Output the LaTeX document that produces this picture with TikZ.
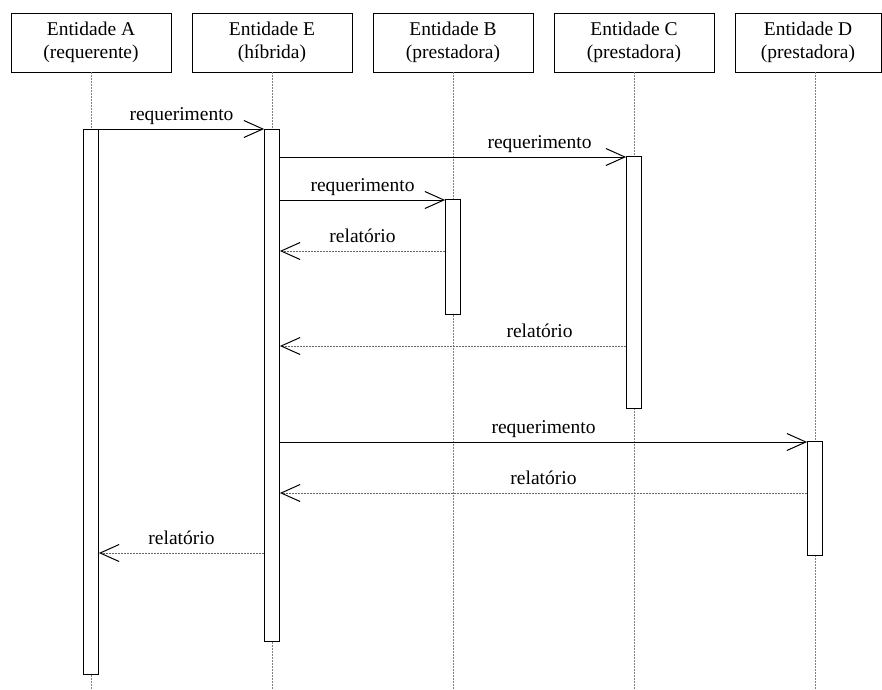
\documentclass[tikz,border=0pt]{standalone}
\usepackage{fontspec}
\setmainfont{Liberation Serif}
\usetikzlibrary{arrows.meta}

\tikzset{
  entity/.style={draw, thick, rectangle, minimum width=160pt, minimum height=59pt, align=center, inner sep=0pt},
  act/.style={draw, thick, fill=white, rectangle, minimum width=15pt, inner sep=0pt},
  life/.style={gray, dash pattern=on 2pt off 1pt, line width=0.8pt},
  req/.style={line width=0.9pt, -{Straight Barb[length=19pt, width=17pt, line width=1pt]}},
  rep/.style={gray!80!black, line width=0.9pt, dash pattern=on 2pt off 1pt, -{Straight Barb[length=19pt, width=17pt, line width=1pt, color=black]}},
  lbl/.style={anchor=base, yshift=9pt, inner sep=0pt, text=black}
}

\begin{document}
\begin{tikzpicture}[x=1pt, y=-1pt, font=\fontsize{19.5}{23}\selectfont]
    \useasboundingbox (0,0) rectangle (882,689);

    % entidades
    \node (A) at (91,42.5) [entity] {Entidade A\\(requerente)};
    \node (E) at (272,42.5) [entity] {Entidade E\\(híbrida)};
    \node (B) at (453,42.5) [entity] {Entidade B\\(prestadora)};
    \node (C) at (634,42.5) [entity] {Entidade C\\(prestadora)};
    \node (D) at (808,42.5) [entity, minimum width=146pt] {Entidade D\\(prestadora)};

    % linhas de vida
    \coordinate (endA) at (91,689);
    \coordinate (endE) at (272,689);
    \coordinate (endB) at (453,689);
    \coordinate (endC) at (634,689);
    \coordinate (endD) at (815,689);
    \draw[life] (A.south -| endA) -- (endA);
    \draw[life] (E.south -| endE) -- (endE);
    \draw[life] (B.south -| endB) -- (endB);
    \draw[life] (C.south -| endC) -- (endC);
    \draw[life] (D.south -| endD) -- (endD);

    % ativacoes
    \node (actA) at (91,401.5) [act, minimum height=545pt] {};
    \node (actE) at (272,385) [act, minimum height=512pt] {};
    \node (actB) at (453,256.5) [act, minimum height=115pt] {};
    \node (actC) at (634,282) [act, minimum height=252pt] {};
    \node (actD) at (815,498) [act, minimum height=114pt] {};

    % mensagens
    \draw[req] (actA.east |- 0,129) -- (actE.west |- 0,129) node[lbl, pos=0.5] {requerimento};
    \draw[req] (actE.east |- 0,157) -- (actC.west |- 0,157) node[lbl, pos=0.75] {requerimento};
    \draw[req] (actE.east |- 0,200) -- (actB.west |- 0,200) node[lbl, pos=0.5] {requerimento};
    \draw[rep] (actB.west |- 0,251) -- (actE.east |- 0,251) node[lbl, pos=0.5] {relatório};
    \draw[rep] (actC.west |- 0,346) -- (actE.east |- 0,346) node[lbl, pos=0.25] {relatório};
    \draw[req] (actE.east |- 0,442) -- (actD.west |- 0,442) node[lbl, pos=0.5] {requerimento};
    \draw[rep] (actD.west |- 0,493) -- (actE.east |- 0,493) node[lbl, pos=0.5] {relatório};
    \draw[rep] (actE.west |- 0,553) -- (actA.east |- 0,553) node[lbl, pos=0.5] {relatório};
\end{tikzpicture}
\end{document}
